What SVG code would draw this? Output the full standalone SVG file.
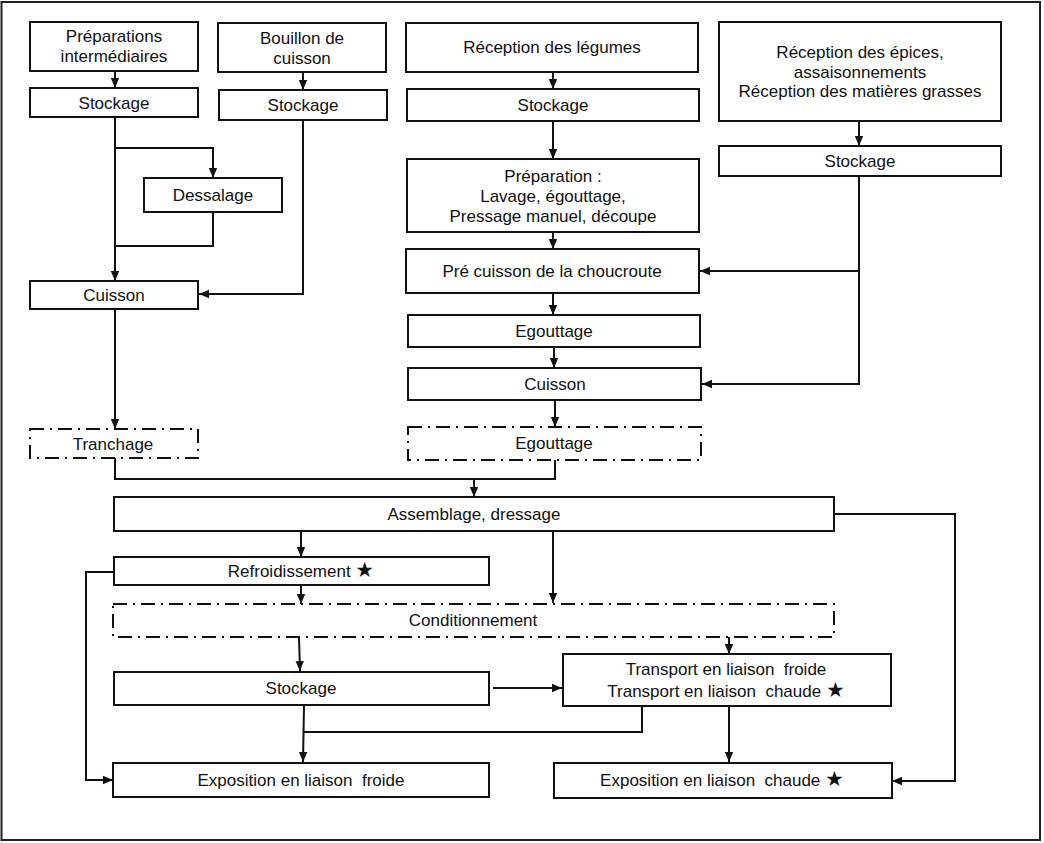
<svg xmlns="http://www.w3.org/2000/svg" width="1044" height="843" viewBox="0 0 1044 843">
<defs>
<marker id="arr" markerUnits="userSpaceOnUse" markerWidth="10" markerHeight="10" viewBox="0 0 10 10" refX="10" refY="5" orient="auto">
<path d="M0,0.8 L10,5 L0,9.2 Z" fill="#111"/>
</marker>
<style>
.box{fill:#fff;stroke:#111;stroke-width:2}
.dash{fill:#fff;stroke:#111;stroke-width:2;stroke-dasharray:14 6 2 6}
.t{font-family:"Liberation Sans",Arial,sans-serif;font-size:17px;fill:#111;text-anchor:middle}
.c{fill:none;stroke:#111;stroke-width:2}
.a{fill:none;stroke:#111;stroke-width:2;marker-end:url(#arr)}
.s{font-family:"DejaVu Sans",sans-serif;font-size:21px;font-weight:bold}
</style>
</defs>
<rect x="0" y="0" width="1044" height="843" fill="#fff"/>
<rect x="1.5" y="2" width="1038.5" height="838" fill="none" stroke="#222" stroke-width="2"/>

<g id="connectors">
<path class="a" d="M115,71 V88"/>
<path class="a" d="M303,72 V90"/>
<path class="a" d="M115,117 V281"/>
<path class="a" d="M115,148 H213 V178"/>
<path class="c" d="M213,212 V246 H115"/>
<path class="a" d="M303,120 V294 H199"/>
<path class="a" d="M115,309 V429"/>
<path class="a" d="M553,72 V89"/>
<path class="a" d="M553,121 V159"/>
<path class="a" d="M553,232 V249"/>
<path class="a" d="M553,293 V315"/>
<path class="a" d="M554,347 V368"/>
<path class="a" d="M555,400 V427"/>
<path class="a" d="M859,121 V146"/>
<path class="a" d="M859,176 V384 H702"/>
<path class="a" d="M859,271 H700"/>
<path class="c" d="M115,458 V479 H555 V460"/>
<path class="a" d="M474,479 V497"/>
<path class="a" d="M301,531 V557"/>
<path class="a" d="M553,531 V603"/>
<path class="a" d="M834,514 H955 V781 H892"/>
<path class="a" d="M301,585 V604"/>
<path class="a" d="M114,572 H86 V780 H113"/>
<path class="a" d="M299,637 L300,671"/>
<path class="a" d="M729,637 V654"/>
<path class="a" d="M493,688 H562"/>
<path class="a" d="M304,705 L303,762"/>
<path class="c" d="M642,706 V732 H304"/>
<path class="a" d="M729,706 V762"/>
</g>

<g id="n-prep-inter"><rect class="box" x="30" y="22" width="168" height="49"/><text class="t" x="114" y="42">Préparations</text><text class="t" x="114" y="62">intermédiaires</text></g>
<g id="n-stock1"><rect class="box" x="30" y="88" width="168" height="29"/><text class="t" x="114" y="109">Stockage</text></g>
<g id="n-bouillon"><rect class="box" x="218" y="23" width="168" height="49"/><text class="t" x="302" y="44">Bouillon de</text><text class="t" x="302" y="64">cuisson</text></g>
<g id="n-stock2"><rect class="box" x="219" y="90" width="168" height="30"/><text class="t" x="303" y="111">Stockage</text></g>
<g id="n-dessalage"><rect class="box" x="144" y="178" width="138" height="34"/><text class="t" x="213" y="201">Dessalage</text></g>
<g id="n-cuisson1"><rect class="box" x="30" y="281" width="168" height="28"/><text class="t" x="114" y="301">Cuisson</text></g>
<g id="n-tranchage"><rect class="dash" x="30" y="429" width="168" height="29"/><text class="t" x="113" y="450">Tranchage</text></g>

<g id="n-recep-leg"><rect class="box" x="406" y="23" width="292" height="49"/><text class="t" x="552" y="53">Réception des légumes</text></g>
<g id="n-stock3"><rect class="box" x="407" y="89" width="292" height="32"/><text class="t" x="553" y="111">Stockage</text></g>
<g id="n-preparation"><rect class="box" x="407" y="159" width="292" height="73"/><text class="t" x="553" y="182">Préparation :</text><text class="t" x="553" y="202">Lavage, égouttage,</text><text class="t" x="553" y="222">Pressage manuel, découpe</text></g>
<g id="n-precuisson"><rect class="box" x="406" y="249" width="293" height="44"/><text class="t" x="552" y="277">Pré cuisson de la choucroute</text></g>
<g id="n-egout1"><rect class="box" x="408" y="315" width="292" height="32"/><text class="t" x="554" y="337">Egouttage</text></g>
<g id="n-cuisson2"><rect class="box" x="408" y="368" width="293" height="32"/><text class="t" x="555" y="390">Cuisson</text></g>
<g id="n-egout2"><rect class="dash" x="408" y="427" width="293" height="33"/><text class="t" x="554" y="449">Egouttage</text></g>

<g id="n-recep-epices"><rect class="box" x="719" y="22" width="282" height="99"/><text class="t" x="860" y="58">Réception des épices,</text><text class="t" x="860" y="77.5">assaisonnements</text><text class="t" x="860" y="97">Réception des matières grasses</text></g>
<g id="n-stock4"><rect class="box" x="719" y="146" width="282" height="30"/><text class="t" x="860" y="167">Stockage</text></g>

<g id="n-assemblage"><rect class="box" x="114" y="497" width="720" height="34"/><text class="t" x="474" y="520">Assemblage, dressage</text></g>
<g id="n-refroid"><rect class="box" x="114" y="557" width="375" height="28"/><text class="t" x="301" y="577">Refroidissement <tspan class="s">★</tspan></text></g>
<g id="n-condit"><rect class="dash" x="113" y="604" width="721" height="33"/><text class="t" x="473" y="626">Conditionnement</text></g>
<g id="n-stock5"><rect class="box" x="114" y="672" width="375" height="33"/><text class="t" x="301" y="694">Stockage</text></g>
<g id="n-transport"><rect class="box" x="563" y="654" width="328" height="52"/><text class="t" x="726" y="675" xml:space="preserve">Transport en liaison  froide</text><text class="t" x="726" y="697" xml:space="preserve">Transport en liaison  chaude <tspan class="s">★</tspan></text></g>
<g id="n-expo-froide"><rect class="box" x="113" y="763" width="376" height="34"/><text class="t" x="301" y="786" xml:space="preserve">Exposition en liaison  froide</text></g>
<g id="n-expo-chaude"><rect class="box" x="554" y="763" width="338" height="35"/><text class="t" x="722" y="786" xml:space="preserve">Exposition en liaison  chaude <tspan class="s">★</tspan></text></g>
</svg>
